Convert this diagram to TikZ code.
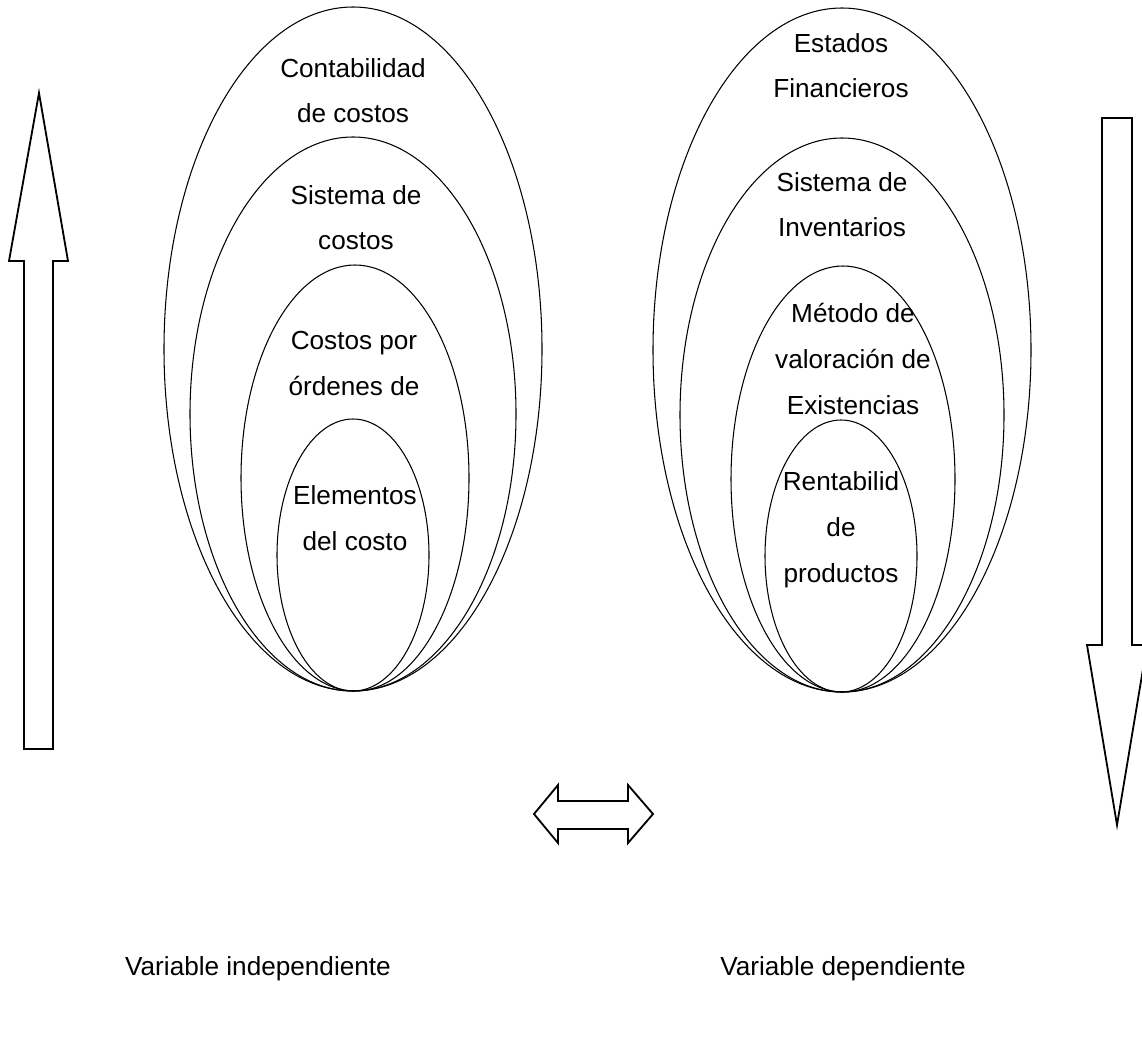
\documentclass[tikz,border=0pt]{standalone}
\usepackage{fontspec}
\setmainfont{Liberation Sans}
\usepackage{tikz}

\begin{document}
\begin{tikzpicture}[x=0.025cm, y=-0.025cm,
  oval/.style={line width=0.75pt},
  flecha/.style={line width=1.3pt, line join=miter, fill=white},
  lbl/.style={align=center, anchor=base, inner sep=0pt,
    font=\fontsize{18.6}{32.5}\selectfont}]
\useasboundingbox (0,0) rectangle (1142,1043);

% left ovals
\draw[oval] (353,349) ellipse [x radius=189, y radius=342];
\draw[oval] (353,414) ellipse [x radius=163, y radius=277];
\draw[oval] (355,478) ellipse [x radius=114, y radius=213];
\draw[oval] (353,555) ellipse [x radius=76, y radius=136];

% right ovals
\draw[oval] (842,350) ellipse [x radius=189, y radius=342];
\draw[oval] (842,415) ellipse [x radius=162, y radius=277];
\draw[oval] (843,479) ellipse [x radius=112, y radius=213];
\draw[oval] (841,556) ellipse [x radius=76, y radius=136];

% labels (anchored on last line)
\node[lbl] (contab) at (353,123) {Contabilidad\\de costos};
\node[lbl] (sistcost) at (356,250) {Sistema de\\costos};
\node[lbl] (ordenes) at (354,395) {Costos por\\órdenes de};
\node[lbl] (elem) at (355,550) {Elementos\\del costo};

\node[lbl] (estados) at (841,98) {Estados\\Financieros};
\node[lbl] (sistinv) at (842,237) {Sistema de\\Inventarios};
\node[lbl] (metodo) at (853,414) {Método de\\valoración de\\Existencias};
\node[lbl] (rentab) at (841,582) {Rentabilid\\de\\productos};

% arrows
\draw[flecha] (24,749) -- (24,261) -- (9,261) -- (39,93) -- (68,261)
  -- (53,261) -- (53,749) -- cycle; % up
\draw[flecha] (1102,118) -- (1102,645) -- (1087,645) -- (1117,825)
  -- (1147,645) -- (1132,645) -- (1132,118) -- cycle; % down
\draw[flecha] (534,814) -- (558,785) -- (558,801) -- (628,801) -- (628,785)
  -- (653,814) -- (628,843) -- (628,829) -- (558,829) -- (558,843) -- cycle;

\node[lbl] (indep) at (258,975) {Variable independiente};
\node[lbl] (dep) at (843,975) {Variable dependiente};
\end{tikzpicture}
\end{document}
